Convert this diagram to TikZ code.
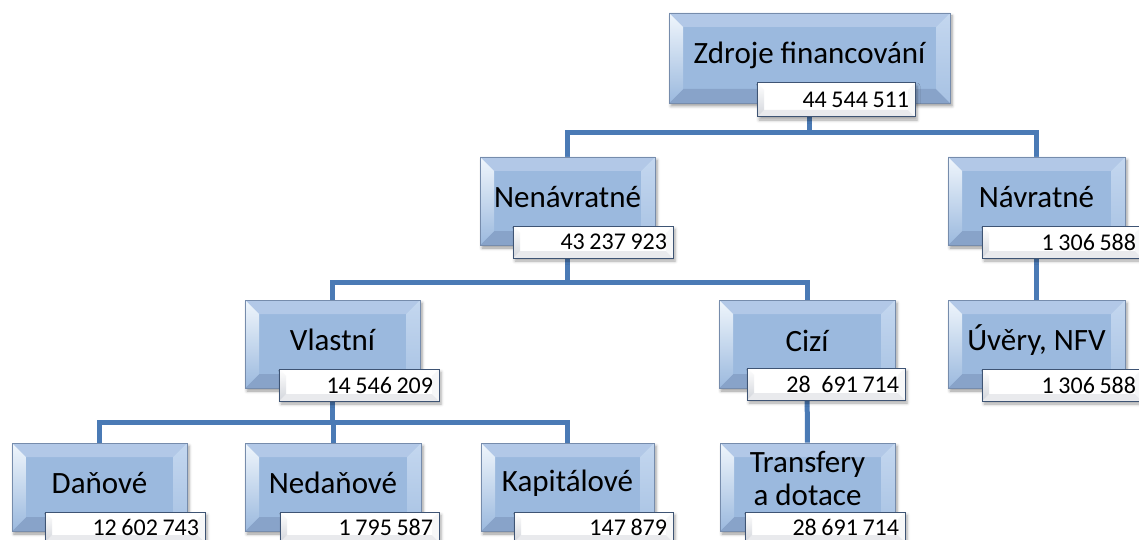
\documentclass[tikz,border=0pt]{standalone}
\usepackage{fontspec}
\setmainfont{Carlito}
\newcommand\gsp{\kern0.19em}
\usetikzlibrary{calc,shadows.blur}
\definecolor{boxblue}{RGB}{155,185,222}
\definecolor{boxborder}{RGB}{118,140,172}
\definecolor{bevtop}{RGB}{178,200,231}
\definecolor{bevright}{RGB}{196,215,239}
\definecolor{bevbot}{RGB}{136,163,201}
\definecolor{bevleft}{RGB}{240,246,252}
\definecolor{valborder}{RGB}{62,84,116}
\definecolor{valgray}{RGB}{210,213,219}
\definecolor{connblue}{RGB}{74,122,181}
\pgfdeclarelayer{bg}
\pgfsetlayers{bg,main}
\tikzset{
  mainbox/.style={rectangle, draw=boxborder, line width=0.9pt, fill=boxblue,
    minimum width=175pt, minimum height=88pt, inner sep=0pt,
    blur shadow={shadow xshift=2pt, shadow yshift=-3pt, shadow blur radius=3pt, shadow opacity=40},
    path picture={
      \path (path picture bounding box.north west) coordinate (pnw)
            (path picture bounding box.north east) coordinate (pne)
            (path picture bounding box.south west) coordinate (psw)
            (path picture bounding box.south east) coordinate (pse);
      \fill[bevtop] (pnw) -- (pne) -- ($(pne)+(-14,14)$) -- ($(pnw)+(14,14)$) -- cycle;
      \fill[bevbot] (psw) -- (pse) -- ($(pse)+(-14,-14)$) -- ($(psw)+(14,-14)$) -- cycle;
      \shade[top color=bevleft, bottom color=boxblue] (pnw) -- ($(pnw)+(14,14)$) -- ($(psw)+(14,-14)$) -- (psw) -- cycle;
      \shade[top color=bevright, bottom color=boxblue!70!bevright] (pne) -- ($(pne)+(-14,14)$) -- ($(pse)+(-14,-14)$) -- (pse) -- cycle;
    }},
  valbox/.style={rectangle, draw=valborder, line width=1pt, fill=white,
    minimum width=160pt, minimum height=32pt, text width=148pt, inner xsep=6pt, inner ysep=0pt,
    align=right, font=\fontsize{24}{26}\selectfont,
    blur shadow={shadow xshift=2pt, shadow yshift=-3pt, shadow blur radius=3pt, shadow opacity=35},
    path picture={
      \path (path picture bounding box.north west) coordinate (pnw)
            (path picture bounding box.north east) coordinate (pne)
            (path picture bounding box.south west) coordinate (psw)
            (path picture bounding box.south east) coordinate (pse);
      \fill[white!50!valgray] (psw) -- (pse) -- ($(pse)+(-7,-7)$) -- ($(psw)+(7,-7)$) -- cycle;
      \shade[top color=white, bottom color=valgray] (pnw) -- ($(pnw)+(7,7)$) -- ($(psw)+(7,-7)$) -- (psw) -- cycle;
      \fill[white!80!valgray] (pne) -- ($(pne)+(-7,7)$) -- ($(pse)+(-7,-7)$) -- (pse) -- cycle;
    }},
  maintext/.style={font=\fontsize{31}{33}\selectfont, align=center, inner sep=0pt},
  conn/.style={draw=connblue, line width=5pt}
}
\begin{document}
\begin{tikzpicture}[x=1pt, y=-1pt]
\useasboundingbox (0,0) rectangle (1139,540);
\clip (0,0) rectangle (1139,540);
% level 1
\node[mainbox, minimum width=281pt, minimum height=90pt] (top) at (809.5,58) {};
\node[maintext] (toptx) at (809.5,55) {Zdroje financování};
\node[valbox, minimum width=158pt, minimum height=34pt, text width=146pt] (topv) at (836,100) {44\gsp544\gsp511};
% level 2
\node[mainbox] (nen) at (567.5,201) {};
\node[maintext] (nentx) at (567.5,197) {Nenávratné};
\node[valbox] (nenv) at (593,242) {43\gsp237\gsp923};
\node[mainbox, minimum width=177pt] (nav) at (1036.5,201) {};
\node[maintext] (navtx) at (1036.5,197) {Návratné};
\node[valbox] (navv) at (1062,242) {1\gsp306\gsp588};
% level 3
\node[mainbox] (vla) at (332.5,344) {};
\node[maintext] (vlatx) at (332.5,340) {Vlastní};
\node[valbox] (vlav) at (359,385) {14\gsp546\gsp209};
\node[mainbox, minimum width=176pt] (ciz) at (807,344) {};
\node[maintext] (ciztx) at (807,341) {Cizí};
\node[valbox, minimum width=158pt, text width=146pt] (cizv) at (826,384) {28\kern0.45em691\gsp714};
\node[mainbox, minimum width=177pt] (uve) at (1036.5,344) {};
\node[maintext] (uvetx) at (1036.5,340) {Úvěry, NFV};
\node[valbox] (uvev) at (1062,385) {1\gsp306\gsp588};
% level 4
\node[mainbox] (dan) at (99.5,487) {};
\node[maintext] (dantx) at (99.5,483) {Daňové};
\node[valbox, minimum height=30pt] (danv) at (125,527) {12\gsp602\gsp743};
\node[mainbox, minimum width=176pt] (ned) at (333,487) {};
\node[maintext] (nedtx) at (333,483) {Nedaňové};
\node[valbox, minimum width=159pt, minimum height=30pt, text width=147pt] (nedv) at (359.5,527) {1\gsp795\gsp587};
\node[mainbox, minimum width=173pt] (kap) at (567.5,487) {};
\node[maintext] (kaptx) at (567.5,483) {Kapitálové};
\node[valbox, minimum width=159pt, minimum height=30pt, text width=147pt] (kapv) at (593.5,527) {147\gsp879};
\node[mainbox, minimum width=175pt] (tra) at (807.5,487) {};
\node[maintext] (tratx) at (807.5,478) {Transfery\\a dotace};
\node[valbox, minimum height=30pt] (trav) at (825,527) {28\gsp691\gsp714};
% connectors
\begin{pgfonlayer}{bg}
\draw[conn] (top) -- (top |- 0,133) -| (nen);
\draw[conn] (top |- 0,133) -| (nav);
\draw[conn] (nen) -- (nen |- 0,282) -| (vla);
\draw[conn] (nen |- 0,282) -| (ciz);
\draw[conn] (nav) -- (uve);
\draw[conn] (vla) -- (vla |- 0,422) -| (dan);
\draw[conn] (vla |- 0,422) -| (ned);
\draw[conn] (vla |- 0,422) -| (kap);
\draw[conn] (ciz) -- (tra);
\end{pgfonlayer}
\end{tikzpicture}
\end{document}
